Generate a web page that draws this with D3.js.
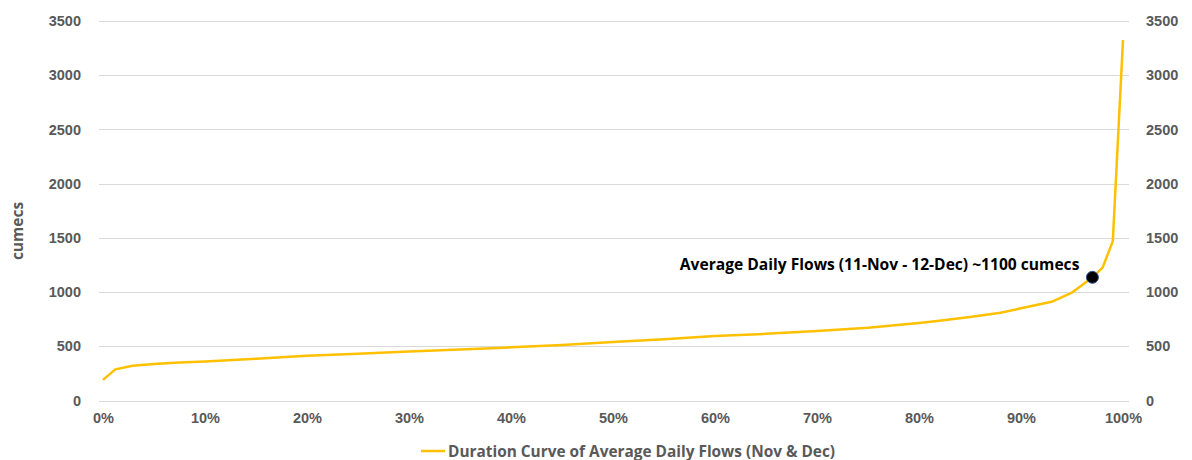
<!DOCTYPE html>
<html lang="en">
<head>
<meta charset="UTF-8">
<title>Flow Duration Curve</title>
<script src="https://d3js.org/d3.v7.min.js"></script>
<style>
    body { margin: 0; background: #fff; }
    svg { font-family: "Open Sans", sans-serif; }
    .tick text { fill: #595959; font-weight: bold; font-size: 14.5px; }
</style>
</head>
<body>
<script>
// exceedance percentage (x) and flow in cumecs (y)
const pct = [0, 1.2, 2.9, 5, 7.5, 10, 15, 20, 25, 30, 35, 40, 45, 50, 55, 60, 65, 70, 75, 80, 82, 85, 88, 90, 93, 95, 96, 97, 98, 99, 100];
const flows = [190, 287, 320, 337, 350, 360, 385, 413, 432, 452, 470, 490, 512, 540, 565, 595, 615, 640, 670, 715, 735, 770, 810, 850, 910, 995, 1065, 1136, 1225, 1470, 3325];
const yTicks = [0, 500, 1000, 1500, 2000, 2500, 3000, 3500];
const xTicks = [0, 10, 20, 30, 40, 50, 60, 70, 80, 90, 100];
const marker = { pct: 97, flow: 1136, label: "Average Daily Flows (11-Nov - 12-Dec) ~1100 cumecs" };
const seriesName = "Duration Curve of Average Daily Flows (Nov & Dec)";

const W = 1192, H = 460;
const plotLeft = 99, plotRight = 1129, plotTop = 21, plotBottom = 400.5;

const svg = d3.select("body").append("svg")
    .attr("width", W).attr("height", H);

const x = d3.scaleLinear().domain([0, 100]).range([plotLeft + 4, plotRight - 6]);
const y = d3.scaleLinear().domain([0, 3500]).range([plotBottom, plotTop]);

// gridlines
svg.append("g").selectAll("line")
    .data(yTicks)
    .join("line")
    .attr("x1", plotLeft).attr("x2", plotRight)
    .attr("y1", d => Math.round(y(d)) + 0.5).attr("y2", d => Math.round(y(d)) + 0.5)
    .attr("stroke", "#d9d9d9").attr("stroke-width", 1);

// left axis
const yl = svg.append("g")
    .attr("transform", `translate(${plotLeft - 18},0)`)
    .call(d3.axisLeft(y).tickValues(yTicks).tickSize(0).tickPadding(0).tickFormat(d3.format("d")));
yl.select(".domain").remove();

// right axis
const yr = svg.append("g")
    .attr("transform", `translate(${plotRight + 17},0)`)
    .call(d3.axisRight(y).tickValues(yTicks).tickSize(0).tickPadding(0).tickFormat(d3.format("d")));
yr.select(".domain").remove();

// x axis
const xa = svg.append("g")
    .attr("transform", `translate(0,${plotBottom + 12})`)
    .call(d3.axisBottom(x).tickValues(xTicks).tickSize(0).tickPadding(0).tickFormat(d => d + "%"));
xa.select(".domain").remove();

// y title
svg.append("text")
    .attr("transform", "translate(23,231) rotate(-90)")
    .attr("text-anchor", "middle")
    .attr("fill", "#595959")
    .attr("font-weight", "bold")
    .attr("font-size", 15.5)
    .text("cumecs");

// the curve
const data = pct.map((p, i) => ({ p, v: flows[i] }));
const line = d3.line().x(d => x(d.p)).y(d => y(d.v));
svg.append("path")
    .datum(data)
    .attr("fill", "none")
    .attr("stroke", "#ffc000")
    .attr("stroke-width", 2.5)
    .attr("stroke-linejoin", "round")
    .attr("d", line);

// marker point + label
svg.append("circle")
    .attr("cx", x(marker.pct)).attr("cy", y(marker.flow))
    .attr("r", 6)
    .attr("fill", "#000")
    .attr("stroke", "#2f5597").attr("stroke-width", 1);

svg.append("text")
    .attr("x", x(marker.pct) - 13)
    .attr("y", y(marker.flow) - 7)
    .attr("text-anchor", "end")
    .attr("font-weight", "bold")
    .attr("font-size", 15.6)
    .attr("fill", "#000")
    .text(marker.label);

// legend
const lg = svg.append("g").attr("transform", "translate(421,451)");
lg.append("line")
    .attr("x1", 0).attr("x2", 24)
    .attr("stroke", "#ffc000").attr("stroke-width", 2.5);
lg.append("text")
    .attr("x", 27).attr("y", 5.5)
    .attr("fill", "#595959")
    .attr("font-weight", "bold")
    .attr("font-size", 15.4)
    .text(seriesName);
</script>
</body>
</html>
